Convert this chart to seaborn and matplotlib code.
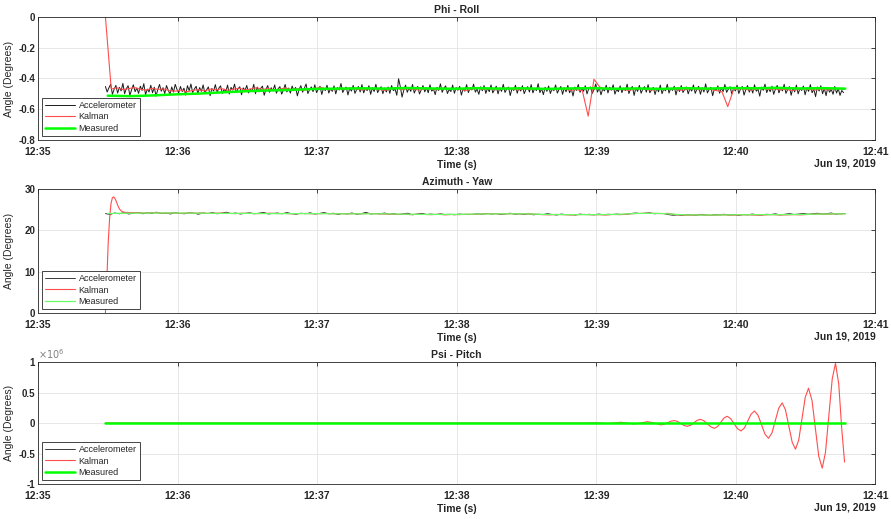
import numpy as np
import pandas as pd
import matplotlib
matplotlib.use("Agg")
import matplotlib.pyplot as plt
import matplotlib.dates as mdates
from matplotlib.ticker import FuncFormatter, MultipleLocator
import seaborn as sns

sns.set_theme(style="white")
plt.rcParams['font.family'] = ['Liberation Sans', 'DejaVu Sans']
plt.rcParams['axes.unicode_minus'] = False

base = pd.Timestamp('2019-06-19 12:35:00')

# ---- Phi - Roll ----
phi_acc_t = np.arange(424) * 0.75 + 29.0
phi_acc = [
    -0.452, -0.488, -0.461, -0.437, -0.503, -0.470, -0.445, -0.495, -0.458, -0.481, -0.432, -0.499, -0.466, -0.447, -0.510, -0.474,
    -0.441, -0.486, -0.462, -0.497, -0.450, -0.478, -0.434, -0.505, -0.469, -0.488, -0.444, -0.493, -0.457, -0.515, -0.472, -0.439,
    -0.483, -0.460, -0.498, -0.446, -0.476, -0.503, -0.455, -0.489, -0.438, -0.471, -0.494, -0.452, -0.485, -0.463, -0.508, -0.447,
    -0.479, -0.436, -0.492, -0.468, -0.451, -0.500, -0.459, -0.484, -0.442, -0.496, -0.473, -0.455, -0.512, -0.465, -0.481, -0.440,
    -0.490, -0.463, -0.448, -0.497, -0.470, -0.485, -0.443, -0.501, -0.458, -0.476, -0.437, -0.492, -0.467, -0.454, -0.506, -0.461,
    -0.478, -0.445, -0.494, -0.469, -0.483, -0.438, -0.499, -0.456, -0.487, -0.464, -0.450, -0.509, -0.472, -0.446, -0.490, -0.460,
    -0.481, -0.442, -0.496, -0.467, -0.453, -0.502, -0.476, -0.439, -0.488, -0.462, -0.495, -0.449, -0.480, -0.458, -0.513, -0.470,
    -0.447, -0.489, -0.464, -0.436, -0.498, -0.473, -0.455, -0.486, -0.441, -0.492, -0.468, -0.451, -0.504, -0.462, -0.479, -0.444,
    -0.495, -0.466, -0.484, -0.448, -0.500, -0.459, -0.475, -0.433, -0.491, -0.469, -0.456, -0.507, -0.463, -0.482, -0.445, -0.497,
    -0.471, -0.452, -0.488, -0.440, -0.494, -0.465, -0.479, -0.447, -0.503, -0.460, -0.485, -0.438, -0.492, -0.470, -0.454, -0.499,
    -0.462, -0.488, -0.455, -0.497, -0.446, -0.479, -0.470, -0.509, -0.402, -0.453, -0.521, -0.476, -0.443, -0.490, -0.461, -0.484,
    -0.439, -0.495, -0.467, -0.452, -0.501, -0.474, -0.446, -0.487, -0.460, -0.493, -0.441, -0.482, -0.469, -0.505, -0.457, -0.478,
    -0.435, -0.490, -0.464, -0.448, -0.498, -0.471, -0.485, -0.443, -0.496, -0.459, -0.477, -0.451, -0.508, -0.466, -0.483, -0.440,
    -0.492, -0.462, -0.475, -0.437, -0.489, -0.468, -0.503, -0.454, -0.480, -0.446, -0.497, -0.463, -0.486, -0.442, -0.494, -0.472,
    -0.450, -0.500, -0.461, -0.484, -0.438, -0.491, -0.469, -0.456, -0.511, -0.465, -0.478, -0.444, -0.496, -0.458, -0.482, -0.447,
    -0.499, -0.470, -0.453, -0.488, -0.440, -0.494, -0.463, -0.479, -0.434, -0.492, -0.467, -0.505, -0.457, -0.484, -0.449, -0.498,
    -0.465, -0.480, -0.442, -0.495, -0.471, -0.452, -0.503, -0.460, -0.487, -0.445, -0.493, -0.468, -0.514, -0.456, -0.478, -0.439,
    -0.490, -0.462, -0.483, -0.447, -0.500, -0.466, -0.455, -0.497, -0.472, -0.436, -0.489, -0.459, -0.506, -0.468, -0.481, -0.444,
    -0.494, -0.457, -0.476, -0.441, -0.502, -0.470, -0.486, -0.448, -0.492, -0.463, -0.479, -0.437, -0.498, -0.466, -0.452, -0.510,
    -0.461, -0.484, -0.445, -0.496, -0.469, -0.453, -0.489, -0.440, -0.493, -0.474, -0.458, -0.504, -0.462, -0.487, -0.443, -0.499,
    -0.467, -0.480, -0.438, -0.495, -0.463, -0.478, -0.450, -0.507, -0.459, -0.485, -0.446, -0.491, -0.471, -0.455, -0.500, -0.464,
    -0.482, -0.442, -0.497, -0.468, -0.451, -0.503, -0.460, -0.488, -0.435, -0.494, -0.472, -0.457, -0.512, -0.466, -0.479, -0.448,
    -0.496, -0.461, -0.485, -0.439, -0.490, -0.470, -0.454, -0.501, -0.463, -0.481, -0.444, -0.498, -0.467, -0.452, -0.508, -0.473,
    -0.446, -0.489, -0.460, -0.495, -0.441, -0.483, -0.469, -0.515, -0.456, -0.477, -0.437, -0.492, -0.464, -0.486, -0.450, -0.503,
    -0.468, -0.445, -0.494, -0.459, -0.481, -0.438, -0.497, -0.472, -0.453, -0.509, -0.462, -0.487, -0.443, -0.500, -0.466, -0.478,
    -0.449, -0.506, -0.461, -0.484, -0.440, -0.493, -0.470, -0.518, -0.455, -0.482, -0.447, -0.499, -0.464, -0.512, -0.458, -0.489,
    -0.471, -0.503, -0.452, -0.495, -0.466, -0.510, -0.478, -0.492,
]
phi_kal_t = np.arange(128) * 2.5 + 29.0
phi_kal = [
    0.0,
    -0.468, -0.461, -0.472, -0.466, -0.459, -0.470, -0.476, -0.464, -0.471, -0.468, -0.479, -0.483, -0.475, -0.486, -0.478,
    -0.472, -0.481, -0.469, -0.474, -0.466, -0.477, -0.470, -0.463, -0.475, -0.468, -0.460, -0.471, -0.466, -0.474, -0.469,
    -0.462, -0.473, -0.467, -0.478, -0.470, -0.465, -0.458, -0.469, -0.474, -0.466, -0.472, -0.461, -0.468, -0.475, -0.470,
    -0.464, -0.471, -0.477, -0.468, -0.462, -0.473, -0.466, -0.470, -0.476, -0.465, -0.469, -0.474, -0.463, -0.470, -0.467,
    -0.472, -0.478, -0.469, -0.464, -0.471, -0.466, -0.474, -0.469, -0.462, -0.470, -0.475, -0.467, -0.471, -0.465, -0.473,
    -0.468, -0.474, -0.466, -0.471, -0.477, -0.472,
    -0.480, -0.645, -0.405, -0.456,
    -0.468, -0.474, -0.466, -0.471, -0.478, -0.469, -0.464, -0.472, -0.476, -0.468,
    -0.473, -0.466, -0.470, -0.477, -0.471, -0.465, -0.474, -0.469, -0.472, -0.478,
    -0.486, -0.583, -0.472,
    -0.466, -0.471, -0.476, -0.469, -0.464, -0.472, -0.467, -0.474, -0.470, -0.478,
    -0.473, -0.467, -0.471, -0.476, -0.469, -0.474, -0.470, -0.466, -0.472,
]
phi_meas_t = np.linspace(30, 347, 33)
phi_meas = [
    -0.512, -0.515, -0.510, -0.503, -0.498, -0.490, -0.483, -0.478, -0.474, -0.468, -0.466,
    -0.464, -0.466, -0.462, -0.465, -0.467, -0.463, -0.466, -0.464, -0.468, -0.465, -0.463,
    -0.467, -0.465, -0.468, -0.463, -0.466, -0.462, -0.464, -0.461, -0.465, -0.463, -0.466,
]

# ---- Azimuth - Yaw ----
yaw_acc_t = np.arange(160) * 2.0 + 29.0
yaw_acc = [
    24.05, 23.85, 24.2, 24.0, 24.3, 23.95, 24.15, 24.35, 24.0, 24.25,
    24.1, 24.4, 24.05, 24.2, 23.95, 24.3, 24.1, 24.0, 24.25, 24.15,
    23.9, 24.2, 24.05, 24.3, 24.0, 24.15, 24.4, 24.05, 24.2, 23.95,
    24.1, 24.25, 24.0, 24.15, 24.35, 23.95, 24.1, 24.2, 24.0, 24.3,
    24.05, 23.9, 24.15, 24.0, 24.25, 23.95, 24.1, 24.3, 24.0, 24.15,
    23.85, 24.1, 24.0, 24.2, 23.9, 24.05, 24.35, 23.95, 24.1, 24.0,
    24.2, 23.9, 24.05, 23.8, 24.0, 24.15, 23.75, 23.95, 24.1, 23.85,
    23.95, 23.8, 24.0, 23.85, 23.9, 23.75, 23.95, 23.85, 23.8, 23.9,
    24.0, 23.9, 24.1, 23.95, 24.05, 23.85, 24.0, 24.15, 23.9, 24.0,
    23.85, 24.0, 23.75, 23.9, 23.8, 24.05, 23.85, 23.7, 23.95, 23.8,
    23.85, 23.7, 23.95, 23.8, 23.9, 23.75, 23.95, 23.8, 23.9, 23.85,
    23.95, 23.8, 23.9, 24.1, 24.2, 24.05, 24.15, 24.25, 24.0, 24.1,
    24.05, 23.8, 23.65, 23.75, 23.6, 23.8, 23.7, 23.65, 23.85, 23.7,
    23.65, 23.8, 23.75, 23.9, 23.7, 23.85, 23.6, 23.8, 23.75, 23.95,
    23.8, 23.7, 23.9, 23.85, 24.0, 23.75, 23.9, 24.05, 23.85, 23.95,
    24.1, 23.9, 24.0, 24.15, 23.95, 24.05, 24.2, 23.9, 24.1, 24.0,
]
yaw_kal_t = [29.0, 29.6, 30.2, 30.8, 31.4, 32.0, 32.6, 33.2, 33.8, 34.4, 35.0, 35.8, 36.6, 37.4] + list(np.arange(103) * 3.0 + 40.0)
yaw_kal = [
    0.0, 8.0, 17.0, 23.0, 26.5, 27.9, 28.1, 27.6, 26.8, 25.9, 25.2, 24.7, 24.45, 24.35,
    24.3, 24.25, 24.2, 24.3, 24.2, 24.15, 24.25, 24.1, 24.2, 24.15, 24.2, 24.1, 24.15, 24.2, 24.1, 24.05,
    24.15, 24.1, 24.05, 24.1, 24.15, 24.05, 24.1, 24.0,
    24.05, 24.1, 24.0, 24.05, 24.1, 24.0, 24.05, 23.95, 24.05, 24.0, 24.1, 24.0, 23.95,
    23.9, 23.85, 23.95, 23.8, 23.9, 23.85, 23.8, 23.9, 23.75, 23.85, 23.8, 23.9, 23.85,
    23.95, 24.0, 24.05, 23.95, 24.0, 24.05, 23.95, 24.0, 23.9,
    23.8, 23.75, 23.85, 23.8, 23.7, 23.8, 23.85, 23.75, 23.8, 23.7, 23.85, 23.8, 23.9,
    24.05, 24.1, 24.15, 24.1, 24.05, 24.1,
    23.8, 23.7, 23.65, 23.75, 23.7, 23.6, 23.7, 23.75, 23.65, 23.7, 23.8, 23.7, 23.65, 23.75, 23.8, 23.7, 23.75, 23.8, 23.75,
    23.85, 23.9, 23.95, 23.9, 24.0, 23.95,
]
yaw_meas_t = np.linspace(30, 347, 33)
yaw_meas = [
    24.1, 24.15, 24.2, 24.2, 24.15, 24.1, 24.1, 24.05, 24.05, 24.05, 24.0,
    24.0, 24.0, 23.9, 23.85, 23.85, 23.95, 24.0, 24.0, 23.85, 23.8, 23.8,
    23.85, 24.1, 24.1, 23.75, 23.7, 23.75, 23.8, 23.8, 23.85, 23.95, 24.0,
]

# ---- Psi - Pitch (values in units of 1e6) ----
psi_acc_t = [29.0, 110.0, 190.0, 270.0, 347.0]
psi_acc = [0.0, 0.0, 0.0, 0.0, 0.0]
psi_meas_t = [29.0, 110.0, 190.0, 270.0, 347.0]
psi_meas = [0.0, 0.0, 0.0, 0.0, 0.0]
psi_kal_t = [
    29.0, 230.0, 233.0, 235.9, 238.8, 241.7, 244.6, 247.5, 250.4, 253.3, 256.2, 259.1, 262.0, 264.9, 267.8,
    269.2, 270.65, 272.1, 273.5, 274.9, 276.3, 277.7, 279.1, 280.5, 281.9, 283.3, 284.7,
    286.2, 287.75, 289.3, 290.8, 292.15, 293.5, 294.85, 296.2, 297.7, 299.2, 300.7, 302.2,
    303.65, 305.1, 306.55, 308.0, 309.5, 311.0, 312.5, 314.0, 315.5, 316.95, 318.4, 319.9,
    321.3, 322.75, 324.2, 325.6, 327.0, 328.4, 329.8, 331.2, 332.7, 334.15, 335.6, 337.1,
    338.5, 339.95, 341.4, 342.8, 344.2, 345.5, 346.7,
]
psi_kal = [
    0.0, 0.0, 0.0, 0.0, 0.005, 0.0, -0.008, 0.0, 0.012, 0.0, -0.016, 0.0, 0.022, 0.0, -0.030,
    -0.020, 0.005, 0.030, 0.040, 0.026, -0.007, -0.040, -0.054, -0.037, 0.003, 0.043, 0.060,
    0.038, -0.013, -0.065, -0.087, -0.057, 0.011, 0.081, 0.110, 0.074, -0.010, -0.094, -0.130,
    -0.081, 0.033, 0.147, 0.196, 0.129, -0.027, -0.183, -0.250, -0.163, 0.040, 0.243, 0.330,
    0.216, -0.050, -0.316, -0.430, -0.280, 0.070, 0.420, 0.570, 0.373, -0.085, -0.543, -0.740,
    -0.482, 0.120, 0.722, 0.980, 0.640, -0.100, -0.640,
]
psi_scale = 1e6


def to_time(secs):
    return base + pd.to_timedelta(np.asarray(secs, dtype=float), unit='s')


fig = plt.figure(figsize=(8.91, 5.19), dpi=100)
ax1 = fig.add_axes([0.0426, 0.7303, 0.9400, 0.2370])
ax2 = fig.add_axes([0.0426, 0.3969, 0.9400, 0.2389])
ax3 = fig.add_axes([0.0426, 0.0674, 0.9400, 0.2351])

green = '#00ff00'
red = '#ff4d4d'

panels = [
    (ax1, 'Phi - Roll', (phi_acc_t, phi_acc), (phi_kal_t, phi_kal), (phi_meas_t, phi_meas), green, 1.8, 1.0, 0.7),
    (ax2, 'Azimuth - Yaw', (yaw_acc_t, yaw_acc), (yaw_kal_t, yaw_kal), (yaw_meas_t, yaw_meas), '#66ff66', 0.9, 1.0, 0.6),
    (ax3, 'Psi - Pitch', (psi_acc_t, psi_acc), (psi_kal_t, psi_kal), (psi_meas_t, psi_meas), green, 1.8, psi_scale, 0.6),
]

for ax, title, acc, kal, meas, mcol, mlw, scale, alw in panels:
    sns.lineplot(x=to_time(acc[0]), y=np.array(acc[1]) * scale, ax=ax, color='#1a1a1a',
                 lw=alw, label='Accelerometer', estimator=None, sort=False)
    sns.lineplot(x=to_time(kal[0]), y=np.array(kal[1]) * scale, ax=ax, color=red,
                 lw=0.8, label='Kalman', estimator=None, sort=False)
    sns.lineplot(x=to_time(meas[0]), y=np.array(meas[1]) * scale, ax=ax, color=mcol,
                 lw=mlw, label='Measured', estimator=None, sort=False)

    ax.set_xlim(base, base + pd.Timedelta(minutes=6))
    ax.xaxis.set_major_locator(mdates.MinuteLocator())
    ax.xaxis.set_major_formatter(mdates.DateFormatter('%H:%M'))
    ax.set_title(title, fontsize=7.5, fontweight='bold', pad=3)
    ax.set_xlabel('Time (s)', fontsize=7.5, fontweight='bold', labelpad=2)
    ax.set_ylabel('Angle (Degrees)', fontsize=7.5)
    ax.yaxis.set_label_coords(-0.029, 0.5)
    ax.grid(True, color='#e3e3e3', lw=0.6)
    ax.tick_params(direction='in', length=3, width=0.6, top=True, right=True,
                   labelsize=7.5, color='#262626')
    ax.tick_params(axis='x', pad=5)
    ax.tick_params(axis='y', pad=2, labelsize=7)
    for sp in ax.spines.values():
        sp.set_color('#262626')
        sp.set_linewidth(0.6)
    ax.text(1.0, -0.19, 'Jun 19, 2019', transform=ax.transAxes, ha='right', va='center',
            fontsize=7.5, fontweight='bold', color='#262626')
    leg = ax.legend(loc='lower left', fontsize=6.5, frameon=True, fancybox=False,
                    borderaxespad=0.45, handlelength=3.3, handletextpad=0.4,
                    borderpad=0.35, labelspacing=0.25)
    leg.get_frame().set_edgecolor('#262626')
    leg.get_frame().set_linewidth(0.6)
    leg.get_frame().set_alpha(1.0)

ax1.set_ylim(-0.8, 0)
ax1.yaxis.set_major_locator(MultipleLocator(0.2))
ax1.yaxis.set_major_formatter(FuncFormatter(lambda v, _: f"{round(v, 1):g}"))

ax2.set_ylim(0, 30)
ax2.yaxis.set_major_locator(MultipleLocator(10))
ax2.yaxis.set_major_formatter(FuncFormatter(lambda v, _: f"{v:g}"))

ax3.set_ylim(-1 * psi_scale, 1 * psi_scale)
ax3.yaxis.set_major_locator(MultipleLocator(0.5 * psi_scale))
ax3.yaxis.set_major_formatter(FuncFormatter(lambda v, _: f"{v / psi_scale:g}"))
ax3.text(0.0, 1.01, r'$\times10^{6}$', transform=ax3.transAxes, ha='left', va='bottom',
         fontsize=7, color='#808080')

for ax in (ax1, ax2, ax3):
    for lab in ax.get_xticklabels() + ax.get_yticklabels():
        lab.set_fontweight('bold')

fig.savefig('out.png', dpi=100)
